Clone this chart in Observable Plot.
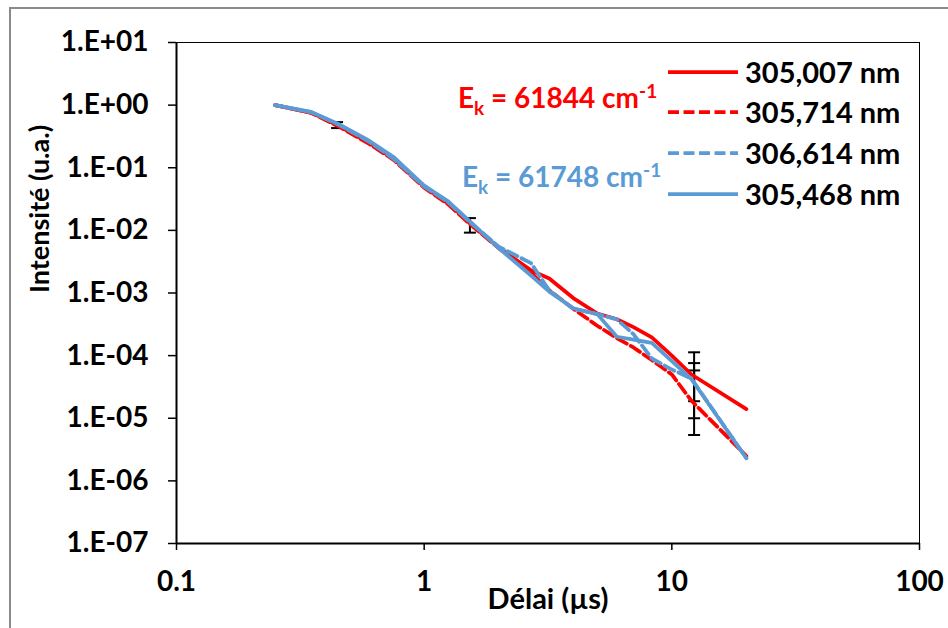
<!DOCTYPE html>
<html>
<head>
<meta charset="utf-8">
<script src="https://cdn.jsdelivr.net/npm/d3@7"></script>
<script src="https://cdn.jsdelivr.net/npm/@observablehq/plot@0.6"></script>
<style>
  html, body { margin: 0; padding: 0; background: #fff; }
  #wrap { position: relative; width: 948px; height: 628px; overflow: hidden; font-family: Lato, "Open Sans", sans-serif; font-weight: 700; }
  #chart { position: absolute; left: 0; top: 0; }
  .ov { position: absolute; white-space: nowrap; line-height: 28px; }
  .sub { position: relative; top: 7px; font-size: 19px; }
  .sup { position: relative; top: -10px; font-size: 19px; }
  #border { position: absolute; left: 9px; top: 7px; width: 1200px; height: 1200px; border-left: 2px solid #8a8a8a; border-top: 2px solid #8a8a8a; pointer-events: none; }
</style>
</head>
<body>
<div id="wrap">
  <div id="chart"></div>
  <div id="border"></div>
</div>
<script>
// ---- data ----
const delays = [0.25, 0.35, 0.45, 0.6, 0.75, 1.0, 1.25, 1.5, 2.0, 2.7, 3.2, 4.0, 5.0, 6.0, 7.0, 8.3, 10.0, 12.0, 20.0];
const series305007 = [1.0, 0.76, 0.47, 0.25, 0.14, 0.050, 0.027, 0.014, 0.0053, 0.0023, 0.0017, 8.3e-4, 4.7e-4, 3.8e-4, 2.85e-4, 1.95e-4, 1.0e-4, 5.0e-5, 1.4e-5];
const series305714 = [1.0, 0.75, 0.46, 0.24, 0.135, 0.048, 0.026, 0.0135, 0.0052, 0.0021, 1.1e-3, 5.6e-4, 3.0e-4, 1.9e-4, 1.35e-4, 8.5e-5, 5.0e-5, 1.9e-5, 2.5e-6];
const series306614 = [1.0, 0.77, 0.49, 0.26, 0.14, 0.050, 0.028, 0.0145, 0.0055, 0.0030, 1.1e-3, 5.6e-4, 4.6e-4, 3.8e-4, 2.2e-4, 9.0e-5, 6.0e-5, 4.3e-5, 2.3e-6];
const series305468 = [1.0, 0.78, 0.50, 0.27, 0.15, 0.052, 0.029, 0.015, 0.0052, 0.0019, 1.05e-3, 5.7e-4, 4.6e-4, 2.0e-4, 1.8e-4, 1.6e-4, 8.2e-5, 4.2e-5, 2.3e-6];
const seriesNames = ["305,007 nm", "305,714 nm", "306,614 nm", "305,468 nm"];

const errX  = [0.445, 1.53, 12.3, 12.3, 12.3];
const errLo = [0.43, 0.0092, 1.87e-5, 1.0e-5, 5.4e-6];
const errHi = [0.535, 0.0157, 1.13e-4, 7.6e-5, 5.8e-5];

const xTicks = [0.1, 1, 10, 100];
const xTickLabels = ["0.1", "1", "10", "100"];
const yTicks = [10, 1, 0.1, 0.01, 1e-3, 1e-4, 1e-5, 1e-6, 1e-7];
const yTickLabels = ["1.E+01", "1.E+00", "1.E-01", "1.E-02", "1.E-03", "1.E-04", "1.E-05", "1.E-06", "1.E-07"];

const annotations = [
  {main: "E", sub: "k", rest: " = 61844 cm", sup: "-1"},
  {main: "E", sub: "k", rest: " = 61748 cm", sup: "-1"}
];

// ---- build tables ----
const seriesValues = [series305007, series305714, series306614, series305468];
const rows = seriesValues.map((vals, s) => delays.map((d, i) => ({delay: d, value: vals[i], series: seriesNames[s]})));
const errs = errX.map((x, i) => ({x, lo: errLo[i], hi: errHi[i]}));
const caps = errs.flatMap(e => [{x: e.x, y: e.lo}, {x: e.x, y: e.hi}]);

const RED = "#FF0000", BLUE = "#5B9BD5";
const styles = [
  {stroke: RED, dash: null},
  {stroke: RED, dash: "11,4.5"},
  {stroke: BLUE, dash: "11,4.5"},
  {stroke: BLUE, dash: null}
];

const capSymbol = { draw(ctx) { ctx.moveTo(-6, 0); ctx.lineTo(6, 0); } };

const chart = Plot.plot({
  width: 948,
  height: 628,
  marginLeft: 176,
  marginRight: 29,
  marginTop: 42,
  marginBottom: 85,
  style: "font-family: Lato, 'Open Sans', sans-serif; font-weight: 700; color: #000; background: transparent; overflow: visible;",
  x: {type: "log", domain: [0.1, 100]},
  y: {type: "log", domain: [1e-7, 10]},
  marks: [
    Plot.frame({stroke: "#000", strokeWidth: 1}),
    Plot.axisY({ticks: yTicks, tickFormat: d => yTickLabels[yTicks.indexOf(d)], tickSize: 8, tickPadding: 20, fontSize: 28, strokeWidth: 1.5, label: null}),
    Plot.axisX({ticks: xTicks, tickFormat: d => xTickLabels[xTicks.indexOf(d)], tickSize: 7, tickPadding: 21, fontSize: 28, strokeWidth: 1.5, label: null}),
    Plot.text(["Intensité (u.a.)"], {text: d => d, frameAnchor: "left", rotate: -90, dx: -136, fontSize: 27, fontWeight: 700}),
    Plot.text(["Délai (µs)"], {text: d => d, frameAnchor: "bottom", dy: 65, fontSize: 29, fontWeight: 700}),
    Plot.ruleX([0.1], {stroke: "#000", strokeWidth: 2}),
    Plot.ruleY([1e-7], {stroke: "#000", strokeWidth: 2}),
    Plot.ruleX(errs, {x: "x", y1: "lo", y2: "hi", stroke: "#000", strokeWidth: 2}),
    Plot.dot(caps, {x: "x", y: "y", symbol: capSymbol, stroke: "#000", strokeWidth: 2, fill: "none"}),
    ...rows.map((r, s) => Plot.line(r, {
      x: "delay", y: "value",
      stroke: styles[s].stroke, strokeWidth: 3.75,
      strokeDasharray: styles[s].dash || undefined,
      strokeLinejoin: "round"
    }))
  ]
});
document.getElementById("chart").appendChild(chart);

// ---- legend & annotations (HTML overlay) ----
const wrap = document.getElementById("wrap");
const legendTops = [58, 98, 139, 180];
seriesNames.forEach((name, i) => {
  const sw = document.createElementNS("http://www.w3.org/2000/svg", "svg");
  sw.setAttribute("width", 74); sw.setAttribute("height", 10);
  sw.style.position = "absolute"; sw.style.left = "666px"; sw.style.top = (legendTops[i] + 9) + "px";
  const ln = document.createElementNS("http://www.w3.org/2000/svg", "line");
  ln.setAttribute("x1", 2); ln.setAttribute("x2", 72); ln.setAttribute("y1", 5); ln.setAttribute("y2", 5);
  ln.setAttribute("stroke", styles[i].stroke); ln.setAttribute("stroke-width", 3.75);
  if (styles[i].dash) ln.setAttribute("stroke-dasharray", styles[i].dash);
  sw.appendChild(ln);
  wrap.appendChild(sw);
  const t = document.createElement("div");
  t.className = "ov"; t.style.left = "745px"; t.style.top = legendTops[i] + "px"; t.style.fontSize = "29px";
  t.textContent = name;
  wrap.appendChild(t);
});
const annPos = [{left: 458, top: 83, color: RED}, {left: 462, top: 162, color: BLUE}];
annotations.forEach((a, i) => {
  const t = document.createElement("div");
  t.className = "ov"; t.style.left = annPos[i].left + "px"; t.style.top = annPos[i].top + "px";
  t.style.fontSize = "28px"; t.style.color = annPos[i].color;
  t.innerHTML = a.main + '<span class="sub">' + a.sub + '</span>' + a.rest + '<span class="sup">' + a.sup + '</span>';
  wrap.appendChild(t);
});
</script>
</body>
</html>
